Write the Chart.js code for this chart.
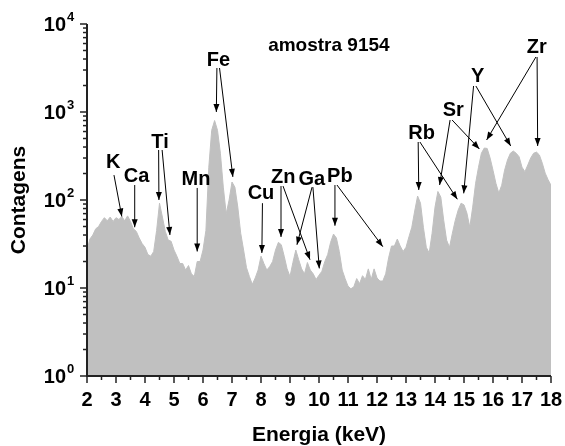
<!DOCTYPE html>
<html>
<head>
<meta charset="utf-8">
<script src="https://cdn.jsdelivr.net/npm/chart.js@4"></script>
<style>
  html, body { margin: 0; padding: 0; background: #fff; }
  #wrap { width: 565px; height: 446px; }
</style>
</head>
<body>
<div id="wrap"><canvas id="chart" width="565" height="446"></canvas></div>
<script>
// ── DATA ─────────────────────────────────────
const energy = [
  2.0, 2.1, 2.2, 2.3, 2.4, 2.5, 2.6, 2.7, 2.8, 2.9,
  3.0, 3.1, 3.2, 3.3, 3.4, 3.5, 3.6, 3.7, 3.8, 3.9,
  4.0, 4.1, 4.2, 4.3, 4.4, 4.5, 4.6, 4.7, 4.8, 4.9,
  5.0, 5.1, 5.2, 5.3, 5.4, 5.5, 5.6, 5.7, 5.8, 5.9,
  6.0, 6.1, 6.2, 6.3, 6.4, 6.5, 6.6, 6.7, 6.8, 6.9,
  7.0, 7.1, 7.2, 7.3, 7.4, 7.5, 7.6, 7.7, 7.8, 7.9,
  8.0, 8.1, 8.2, 8.3, 8.4, 8.5, 8.6, 8.7, 8.8, 8.9,
  9.0, 9.1, 9.2, 9.3, 9.4, 9.5, 9.6, 9.7, 9.8, 9.9,
  10.0, 10.1, 10.2, 10.3, 10.4, 10.5, 10.6, 10.7, 10.8, 10.9,
  11.0, 11.1, 11.2, 11.3, 11.4, 11.5, 11.6, 11.7, 11.8, 11.9,
  12.0, 12.1, 12.2, 12.3, 12.4, 12.5, 12.6, 12.7, 12.8, 12.9,
  13.0, 13.1, 13.2, 13.3, 13.4, 13.5, 13.6, 13.7, 13.8, 13.9,
  14.0, 14.1, 14.2, 14.3, 14.4, 14.5, 14.6, 14.7, 14.8, 14.9,
  15.0, 15.1, 15.2, 15.3, 15.4, 15.5, 15.6, 15.7, 15.8, 15.9,
  16.0, 16.1, 16.2, 16.3, 16.4, 16.5, 16.6, 16.7, 16.8, 16.9,
  17.0, 17.1, 17.2, 17.3, 17.4, 17.5, 17.6, 17.7, 17.8, 17.9,
  18.0
];
const counts = [
  27, 36, 40, 47, 50, 57, 63, 58, 64, 57,
  63, 60, 65, 58, 66, 57, 47, 44, 37, 32,
  29, 24, 23, 26, 45, 92, 64, 44, 35, 34,
  27, 23, 19, 19, 16, 18, 14.5, 13.5, 20, 20,
  27, 45, 236, 620, 800, 620, 340, 140, 70, 100,
  160, 140, 83, 42, 27, 17, 13.5, 11, 13, 16,
  23, 19, 16, 17.5, 20, 27, 33, 31, 23, 16.5,
  13.5, 19.5, 27, 21, 16.5, 14.5, 19.5, 16, 14.5, 12.5,
  14, 15.5, 20, 24, 33, 41, 37, 26, 16, 12.8,
  10.5, 9.8, 10.3, 12.8, 11.2, 13.8, 12.5, 16.5, 12.5, 16.5,
  13, 12, 12, 14.5, 22, 30, 30, 36, 30, 26,
  29, 38, 49, 75, 111, 92, 49, 29, 25, 42,
  83, 125, 108, 59, 35, 29, 42, 59, 77, 92,
  88, 71, 49, 83, 155, 236, 340, 390, 385, 300,
  218, 155, 120, 147, 218, 285, 340, 360, 340, 310,
  236, 210, 250, 300, 340, 350, 325, 262, 202, 170,
  147
];

const xTicks = [2, 3, 4, 5, 6, 7, 8, 9, 10, 11, 12, 13, 14, 15, 16, 17, 18];
const yTicks = [1, 10, 100, 1000, 10000];
const yExp   = ['0', '1', '2', '3', '4'];

const title  = 'amostra 9154';
const titleAt = [10.34, 5600];

// element labels: text, energy, counts
const elLabels = [
  ['K', 2.9, 270], ['Ca', 3.71, 187], ['Ti', 4.52, 448], ['Mn', 5.76, 169],
  ['Fe', 6.53, 3800], ['Cu', 8.0, 120], ['Zn', 8.77, 181], ['Ga', 9.75, 169],
  ['Pb', 10.72, 187], ['Rb', 13.54, 573], ['Sr', 14.63, 1054], ['Y', 15.47, 2518],
  ['Zr', 17.51, 5435]
];

// arrows: from (E, counts) to (E, counts)
const arrows = [
  [2.93, 192, 3.20, 65],
  [3.645, 148, 3.645, 49],
  [4.47, 370, 4.48, 100],
  [4.59, 370, 4.86, 40],
  [5.80, 137, 5.80, 26],
  [6.48, 3162, 6.46, 1000],
  [6.57, 3162, 7.03, 183],
  [8.05, 92, 8.03, 25],
  [8.69, 144, 8.69, 38],
  [8.76, 144, 9.69, 21],
  [9.76, 140, 9.24, 31],
  [9.79, 140, 10.01, 16.7],
  [10.55, 148, 10.55, 51],
  [10.62, 148, 12.20, 29.5],
  [13.42, 456, 13.44, 130],
  [13.48, 456, 14.77, 102],
  [14.52, 811, 14.16, 148],
  [14.59, 811, 15.53, 380],
  [15.33, 1974, 14.99, 119],
  [15.41, 1974, 16.61, 411],
  [17.48, 4217, 15.78, 481],
  [17.52, 4217, 17.54, 411]
];

const FONT = '"Liberation Sans", Arial, Helvetica, sans-serif';

// ── DECORATION PLUGIN ─────────────────────────
function arrow(ctx, x1, y1, x2, y2) {
  ctx.beginPath();
  ctx.moveTo(x1, y1);
  ctx.lineTo(x2, y2);
  ctx.stroke();
  const a = Math.atan2(y2 - y1, x2 - x1);
  const L = 8, W = 3;
  const c = Math.cos(a), s = Math.sin(a);
  ctx.beginPath();
  ctx.moveTo(x2, y2);
  ctx.lineTo(x2 - L * c + W * s, y2 - L * s - W * c);
  ctx.lineTo(x2 - L * c - W * s, y2 - L * s + W * c);
  ctx.closePath();
  ctx.fill();
}

const decor = {
  id: 'decor',
  afterDraw(chart) {
    const { ctx, chartArea: a } = chart;
    const xs = chart.scales.x, ys = chart.scales.y;
    ctx.save();
    ctx.fillStyle = '#000';

    // axis ticks
    ctx.lineWidth = 1.5;
    ctx.strokeStyle = '#222';
    xTicks.forEach(v => {
      const px = xs.getPixelForValue(v);
      ctx.beginPath(); ctx.moveTo(px, a.bottom); ctx.lineTo(px, a.bottom + 7); ctx.stroke();
      if (v < 18) {
        const pm = xs.getPixelForValue(v + 0.5);
        ctx.beginPath(); ctx.moveTo(pm, a.bottom); ctx.lineTo(pm, a.bottom + 4); ctx.stroke();
      }
    });
    yTicks.forEach((v, i) => {
      const py = ys.getPixelForValue(v);
      ctx.beginPath(); ctx.moveTo(a.left, py); ctx.lineTo(a.left - 7, py); ctx.stroke();
      if (i < yTicks.length - 1) {
        for (let m = 2; m <= 9; m++) {
          const pm = ys.getPixelForValue(v * m);
          ctx.beginPath(); ctx.moveTo(a.left, pm); ctx.lineTo(a.left - 4, pm); ctx.stroke();
        }
      }
    });

    // axis lines
    ctx.lineWidth = 2;
    ctx.beginPath();
    ctx.moveTo(a.left, a.top);
    ctx.lineTo(a.left, a.bottom);
    ctx.lineTo(a.right, a.bottom);
    ctx.stroke();

    // tick labels
    ctx.font = 'bold 20px ' + FONT;
    ctx.textAlign = 'center';
    ctx.textBaseline = 'alphabetic';
    xTicks.forEach(v => ctx.fillText(String(v), xs.getPixelForValue(v), 406));
    yTicks.forEach((v, i) => {
      const py = ys.getPixelForValue(v);
      ctx.font = 'bold 20px ' + FONT;
      ctx.textAlign = 'right';
      ctx.fillText('10', 66, py + 7);
      ctx.font = 'bold 13px ' + FONT;
      ctx.textAlign = 'left';
      ctx.fillText(yExp[i], 67, py - 3);
    });

    // axis titles
    ctx.font = 'bold 21px ' + FONT;
    ctx.textAlign = 'center';
    ctx.fillText('Energia (keV)', (a.left + a.right) / 2, 441);
    ctx.save();
    ctx.translate(25, (a.top + a.bottom) / 2);
    ctx.rotate(-Math.PI / 2);
    ctx.fillText('Contagens', 0, 0);
    ctx.restore();

    // sample name
    ctx.font = 'bold 19px ' + FONT;
    ctx.textBaseline = 'middle';
    ctx.fillText(title, xs.getPixelForValue(titleAt[0]), ys.getPixelForValue(titleAt[1]));

    // element labels
    ctx.font = 'bold 20px ' + FONT;
    elLabels.forEach(([t, e, c]) => {
      ctx.fillText(t, xs.getPixelForValue(e), ys.getPixelForValue(c));
    });

    // arrows
    ctx.lineWidth = 1;
    ctx.strokeStyle = '#000';
    arrows.forEach(([e1, c1, e2, c2]) => {
      arrow(ctx, xs.getPixelForValue(e1), ys.getPixelForValue(c1),
                 xs.getPixelForValue(e2), ys.getPixelForValue(c2));
    });
    ctx.restore();
  }
};

// ── CHART ─────────────────────────────────────
const ctx = document.getElementById('chart').getContext('2d');
new Chart(ctx, {
  type: 'line',
  data: {
    datasets: [{
      data: energy.map((e, i) => ({ x: e, y: counts[i] })),
      fill: 'start',
      backgroundColor: '#c0c0c0',
      borderColor: '#c0c0c0',
      borderWidth: 1,
      pointRadius: 0,
      tension: 0
    }]
  },
  options: {
    responsive: false,
    animation: false,
    layout: { padding: { left: 0, right: 14, top: 24, bottom: 0 } },
    plugins: { legend: { display: false }, tooltip: { enabled: false } },
    scales: {
      x: {
        type: 'linear', min: 2, max: 18,
        grid: { display: false },
        border: { display: false },
        ticks: { display: false },
        afterFit: s => { s.height = 70; }
      },
      y: {
        type: 'logarithmic', min: 1, max: 10000,
        grid: { display: false },
        border: { display: false },
        ticks: { display: false },
        afterFit: s => { s.width = 87; }
      }
    }
  },
  plugins: [decor]
});
</script>
</body>
</html>
